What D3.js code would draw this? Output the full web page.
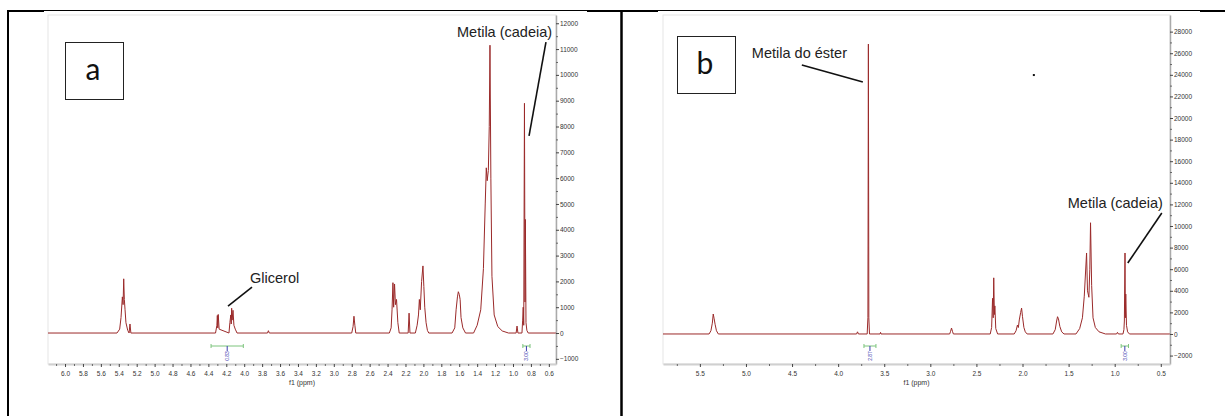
<!DOCTYPE html>
<html>
<head>
<meta charset="utf-8">
<script src="https://cdnjs.cloudflare.com/ajax/libs/d3/7.8.5/d3.min.js"></script>
<style>
  body { margin: 0; background: #fff; }
  svg { display: block; }
  .tick text { font-family: "Liberation Sans", Arial, sans-serif; font-size: 6.5px; fill: #333; }
  .note { font-family: "Liberation Sans", Arial, sans-serif; font-size: 14.5px; fill: #222; }
  .axis-title { font-family: "Liberation Sans", Arial, sans-serif; font-size: 7px; fill: #333; }
  .panel-letter { font-family: Lato, "Open Sans", sans-serif; font-size: 30px; fill: #111; }
</style>
</head>
<body>
<div class="chart"></div>
<script>
// ========================================================
// Spectrum a : [ppm, intensity]
var spectrumA = [
  [6.19, 0], [5.42, 0], [5.39, 150], [5.375, 600], [5.36, 1400], [5.352, 1100], [5.345, 2100],
  [5.338, 1300], [5.33, 900], [5.32, 400], [5.30, 100], [5.285, 0], [5.275, 350], [5.265, 0],
  [4.32, 0], [4.305, 300], [4.30, 680], [4.295, 200], [4.29, 720], [4.28, 150], [4.17, 0],
  [4.16, 400], [4.15, 700], [4.145, 350], [4.14, 960], [4.135, 500], [4.125, 880], [4.115, 300],
  [4.10, 150], [4.08, 0], [3.74, 0], [3.73, 90], [3.72, 0], [2.80, 0], [2.785, 250],
  [2.775, 650], [2.765, 300], [2.755, 0], [2.38, 0], [2.36, 200], [2.35, 900], [2.34, 1950],
  [2.332, 1000], [2.322, 1900], [2.312, 1100], [2.30, 1300], [2.285, 400], [2.27, 0],
  [2.17, 0], [2.16, 770], [2.15, 0], [2.09, 0], [2.07, 300], [2.055, 700], [2.045, 1300],
  [2.035, 900], [2.02, 2000], [2.005, 2600], [1.995, 1800], [1.985, 1000], [1.97, 400],
  [1.955, 100], [1.94, 0], [1.68, 0], [1.65, 200], [1.635, 900], [1.62, 1400], [1.61, 1600],
  [1.60, 1500], [1.59, 1300], [1.58, 600], [1.56, 200], [1.53, 0], [1.44, 0], [1.40, 300],
  [1.36, 900], [1.33, 2500], [1.31, 5000], [1.298, 6400], [1.288, 5900], [1.275, 6300],
  [1.265, 8000], [1.257, 11150], [1.247, 6000], [1.235, 2200], [1.21, 700], [1.17, 250],
  [1.12, 80], [1.05, 0], [0.965, 0], [0.955, 270], [0.945, 0], [0.90, 0], [0.892, 500],
  [0.886, 1000], [0.88, 300], [0.872, 8900], [0.866, 1200], [0.862, 4400], [0.855, 400],
  [0.845, 100], [0.83, 0], [0.52, 0]
];

// Spectrum b : [ppm, intensity]
var spectrumB = [
  [5.90, 0], [5.40, 0], [5.38, 300], [5.365, 1000], [5.355, 1850], [5.345, 1400], [5.335, 900],
  [5.32, 300], [5.30, 0], [3.80, 0], [3.79, 200], [3.78, 0], [3.685, 0], [3.677, 1500],
  [3.672, 26850], [3.667, 1500], [3.66, 0], [3.545, 0], [3.54, 150], [3.535, 0], [2.79, 0],
  [2.78, 250], [2.77, 550], [2.76, 250], [2.75, 0], [2.35, 0], [2.335, 600], [2.325, 3300],
  [2.318, 1500], [2.312, 5200], [2.305, 1800], [2.30, 2600], [2.29, 500], [2.27, 0],
  [2.09, 0], [2.07, 300], [2.055, 830], [2.045, 600], [2.035, 1300], [2.02, 2000],
  [2.01, 2400], [2.00, 1600], [1.985, 600], [1.97, 200], [1.95, 0], [1.67, 0], [1.645, 400],
  [1.63, 1200], [1.62, 1600], [1.61, 1400], [1.595, 700], [1.575, 200], [1.55, 0], [1.42, 0],
  [1.38, 500], [1.35, 1500], [1.33, 3500], [1.305, 7500], [1.295, 4000], [1.28, 3400],
  [1.27, 6000], [1.262, 10300], [1.25, 4500], [1.235, 1500], [1.21, 600], [1.17, 200],
  [1.10, 0], [0.98, 0], [0.97, 150], [0.96, 0], [0.91, 0], [0.90, 400], [0.895, 1200],
  [0.888, 7500], [0.884, 1500], [0.88, 3700], [0.872, 800], [0.86, 200], [0.84, 0], [0.40, 0]
];

// tick labels
var xTicksA = [6.0, 5.8, 5.6, 5.4, 5.2, 5.0, 4.8, 4.6, 4.4, 4.2, 4.0, 3.8, 3.6, 3.4, 3.2, 3.0,
  2.8, 2.6, 2.4, 2.2, 2.0, 1.8, 1.6, 1.4, 1.2, 1.0, 0.8, 0.6];
var xTicksB = [5.5, 5.0, 4.5, 4.0, 3.5, 3.0, 2.5, 2.0, 1.5, 1.0, 0.5];
var yTicksA = [12000, 11000, 10000, 9000, 8000, 7000, 6000, 5000, 4000, 3000, 2000, 1000, 0, -1000];
var yTicksB = [28000, 26000, 24000, 22000, 20000, 18000, 16000, 14000, 12000, 10000, 8000,
  6000, 4000, 2000, 0, -2000];

// integrals: [from ppm, to ppm, value]
var integralsA = [[4.37, 4.01, "0.83"], [0.89, 0.81, "3.00"]];
var integralsB = [[3.72, 3.59, "2.87"], [0.93, 0.85, "3.00"]];

// annotations: text anchor and leader line, in ppm / intensity
var notesA = [
  { text: "Metila (cadeia)", tx: 1.625, ty: 11470, x1: 0.632, y1: 11270, x2: 0.821, y2: 7640 },
  { text: "Glicerol", tx: 3.935, ty: 1930, x1: 3.913, y1: 1776, x2: 4.181, y2: 1042 }
];
var notesB = [
  { text: "Metila do éster", tx: 4.936, ty: 25560, x1: 4.394, y1: 24910, x2: 3.732, y2: 23330 },
  { text: "Metila (cadeia)", tx: 1.509, ty: 11670, x1: 0.489, y1: 11200, x2: 0.858, y2: 6570 }
];

// ========================================================
var svgWidth = 1225;
var svgHeight = 416;

var svg = d3
  .select(".chart")
  .append("svg")
  .attr("width", svgWidth)
  .attr("height", svgHeight);

// table borders of the document
var border = svg.append("g").attr("stroke", "#000");
border.append("line").attr("x1", 8).attr("x2", 1225).attr("y1", 10.5).attr("y2", 10.5).attr("stroke-width", 1);
[[8, 44], [587, 658], [1200, 1225]].forEach(function(s) {
  border.append("line").attr("x1", s[0]).attr("x2", s[1]).attr("y1", 11).attr("y2", 11).attr("stroke-width", 2);
});
border.append("line").attr("x1", 8).attr("x2", 8).attr("y1", 10).attr("y2", 416).attr("stroke-width", 2);
border.append("line").attr("x1", 621.5).attr("x2", 621.5).attr("y1", 10).attr("y2", 416).attr("stroke-width", 2.5);

function drawPanel(p) {
  var x = d3.scaleLinear().domain(p.xDomain).range([p.left, p.right]);
  var y = d3.scaleLinear().domain(p.yDomain).range([p.bottom, p.top]);
  var g = svg.append("g");

  // plot frame
  g.append("rect")
    .attr("x", p.left)
    .attr("y", p.top)
    .attr("width", p.right - p.left)
    .attr("height", p.bottom - p.top)
    .attr("fill", "none")
    .attr("stroke", "#e6e6e6");

  // spectrum
  var line = d3.line()
    .x(d => x(d[0]))
    .y(d => y(d[1]));

  g.append("path")
    .datum(p.spectrum)
    .attr("d", line)
    .attr("fill", "none")
    .attr("stroke", "#9b2a2a")
    .attr("stroke-width", 1)
    .attr("stroke-linejoin", "round");

  // right y axis, minor ticks first
  var yStep = p.yTicks[0] - p.yTicks[1];
  var yMinor = p.yTicks.slice(1).map(v => v + yStep / 2).concat([p.yTicks[p.yTicks.length - 1] - yStep / 2])
    .filter(v => v > p.yDomain[0]);
  g.append("g")
    .attr("transform", `translate(${p.right}, 0)`)
    .attr("color", "#666")
    .call(d3.axisRight(y).tickValues(yMinor).tickSize(2).tickSizeOuter(0).tickFormat(""))
    .select(".domain").attr("stroke", "#aaa").attr("stroke-width", 1.5);

  g.append("g")
    .attr("transform", `translate(${p.right}, 0)`)
    .attr("color", "#444")
    .call(d3.axisRight(y).tickValues(p.yTicks).tickSize(3).tickSizeOuter(0).tickPadding(1).tickFormat(d3.format("d")))
    .select(".domain").remove();

  // bottom x axis
  var xStep = p.xTicks[0] - p.xTicks[1];
  var xMinor = p.xTicks.map(v => v + xStep / 2).concat([p.xTicks[p.xTicks.length - 1] - xStep / 2])
    .filter(v => v < p.xDomain[0] && v > p.xDomain[1]);
  g.append("g")
    .attr("transform", `translate(0, ${p.bottom})`)
    .attr("color", "#666")
    .call(d3.axisBottom(x).tickValues(xMinor).tickSize(2).tickSizeOuter(0).tickFormat(""))
    .select(".domain").attr("stroke", "#d0d0d0").attr("stroke-width", 2);

  g.append("g")
    .attr("transform", `translate(0, ${p.bottom})`)
    .attr("color", "#444")
    .call(d3.axisBottom(x).tickValues(p.xTicks).tickSize(3).tickSizeOuter(0).tickPadding(4).tickFormat(d3.format(".1f")))
    .select(".domain").remove();

  g.append("text")
    .attr("class", "axis-title")
    .attr("x", (p.left + p.right) / 2)
    .attr("y", p.bottom + 21)
    .attr("text-anchor", "middle")
    .text("f1 (ppm)");

  // integrals
  var yInt = p.bottom - 18;
  p.integrals.forEach(function(it) {
    var xa = x(it[0]), xb = x(it[1]), xc = (xa + xb) / 2;
    var ig = g.append("g");
    ig.append("line").attr("x1", xa).attr("x2", xb).attr("y1", yInt).attr("y2", yInt)
      .attr("stroke", "#7cc47c").attr("stroke-width", 1);
    [xa, xb].forEach(function(xe) {
      ig.append("line").attr("x1", xe).attr("x2", xe).attr("y1", yInt - 2).attr("y2", yInt + 2)
        .attr("stroke", "#7cc47c").attr("stroke-width", 1);
    });
    ig.append("line").attr("x1", xc).attr("x2", xc).attr("y1", yInt).attr("y2", yInt + 5)
      .attr("stroke", "#3b3bb0").attr("stroke-width", 1);
    ig.append("text")
      .attr("transform", `translate(${xc + 1.8}, ${yInt + 10}) rotate(-90)`)
      .attr("text-anchor", "middle")
      .style("font-family", "Liberation Sans, Arial, sans-serif")
      .style("font-size", "5px")
      .attr("fill", "#3b3bb0")
      .text(it[2]);
  });

  // annotations
  p.notes.forEach(function(n) {
    g.append("line")
      .attr("x1", x(n.x1)).attr("y1", y(n.y1))
      .attr("x2", x(n.x2)).attr("y2", y(n.y2))
      .attr("stroke", "#111")
      .attr("stroke-width", 1.6);
    g.append("text")
      .attr("class", "note")
      .attr("x", x(n.tx))
      .attr("y", y(n.ty))
      .text(n.text);
  });

  // panel letter box
  g.append("rect")
    .attr("x", p.box[0] + 0.5)
    .attr("y", p.box[1] + 0.5)
    .attr("width", 58)
    .attr("height", 57)
    .attr("fill", "#fff")
    .attr("stroke", "#222")
    .attr("stroke-width", 1);
  g.append("text")
    .attr("class", "panel-letter")
    .attr("x", p.box[0] + 28)
    .attr("y", p.box[1] + p.letterDy)
    .attr("text-anchor", "middle")
    .text(p.letter);

  return { x: x, y: y, g: g };
}

drawPanel({
  spectrum: spectrumA, xTicks: xTicksA, yTicks: yTicksA,
  integrals: integralsA, notes: notesA,
  xDomain: [6.19, 0.52], yDomain: [-1200, 12320],
  left: 48, right: 556, top: 15, bottom: 364,
  box: [65, 42], letter: "a", letterDy: 38
});

var panelB = drawPanel({
  spectrum: spectrumB, xTicks: xTicksB, yTicks: yTicksB,
  integrals: integralsB, notes: notesB,
  xDomain: [5.90, 0.40], yDomain: [-2780, 29540],
  left: 663, right: 1170, top: 15, bottom: 364,
  box: [677, 36], letter: "b", letterDy: 38
});

// stray dot in panel b
panelB.g.append("rect")
  .attr("x", panelB.x(1.877) - 1)
  .attr("y", panelB.y(23980) - 1)
  .attr("width", 2)
  .attr("height", 2)
  .attr("fill", "#111");
</script>
</body>
</html>
